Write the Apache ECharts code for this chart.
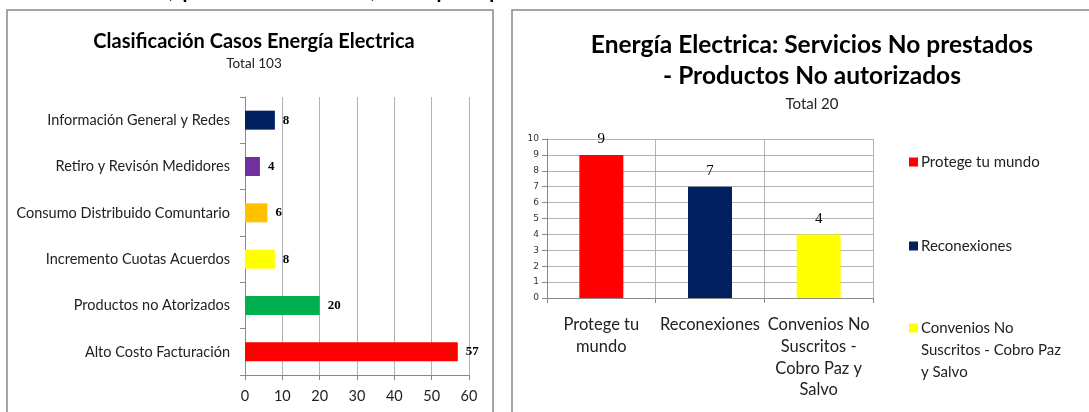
<!DOCTYPE html>
<html><head><meta charset="utf-8">
<script src="https://cdn.jsdelivr.net/npm/echarts@6/dist/echarts.min.js"></script>
<style>html,body{margin:0;padding:0;background:#fff;overflow:hidden}#c{width:1089px;height:412px}</style>
</head><body><div id="c"></div>
<script>
// Left chart data
const leftTitle = 'Clasificación Casos Energía Electrica';
const leftSubtitle = 'Total 103';
const leftCategories = ['Información General y Redes','Retiro y Revisón Medidores','Consumo Distribuido Comuntario','Incremento Cuotas Acuerdos','Productos no Atorizados','Alto Costo Facturación'];
const leftValues = [8, 4, 6, 8, 20, 57];
const leftColors = ['#002060','#7030A0','#FFC000','#FFFF00','#00B050','#FF0000'];
const leftTicks = [0, 10, 20, 30, 40, 50, 60];

// Right chart data
const rightTitle = 'Energía Electrica: Servicios No prestados\n- Productos No autorizados';
const rightSubtitle = 'Total 20';
const rightCategories = ['Protege tu mundo','Reconexiones','Convenios No Suscritos - Cobro Paz y Salvo'];
const rightAxisLabels = ['Protege tu\nmundo','Reconexiones','Convenios No\nSuscritos -\nCobro Paz y\nSalvo'];
const rightLegendLabels = ['Protege tu mundo','Reconexiones','Convenios No\nSuscritos - Cobro Paz\ny Salvo'];
const rightValues = [9, 7, 4];
const rightColors = ['#FF0000','#002060','#FFFF00'];
const rightTicks = [0,1,2,3,4,5,6,7,8,9,10];

const topText = 'conformación, por cada sector, una perspectiva de los casos';

const SANS = 'Lato';
const SERIF = 'Liberation Serif';
const GRID = '#b3b3b3';

const chart = echarts.init(document.getElementById('c'));

const rightSeries = rightCategories.map((name, i) => ({
  type: 'bar', name: name, stack: 'r', xAxisIndex: 1, yAxisIndex: 1,
  barWidth: 44,
  itemStyle: { color: rightColors[i] },
  label: { show: true, position: 'top', distance: 8, fontFamily: SERIF, fontSize: 15, color: '#000' },
  data: rightCategories.map((c, j) => j === i ? rightValues[i] : '-')
}));

const legendTops = [146, 230, 312];
const squareIcon = 'path://M0,0H9V9H0Z';
const tallIcon = 'path://M0,0H9V9H0Z M0,53H0.05V53.05H0Z';
const legends = rightCategories.map((name, i) => {
  const multi = rightLegendLabels[i].indexOf('\n') >= 0;
  return {
    data: [{ name: name, icon: multi ? tallIcon : squareIcon }], left: 904, top: legendTops[i], orient: 'vertical',
    itemWidth: 9, itemHeight: multi ? 53.05 : 9, itemGap: 0,
    selectedMode: false,
    formatter: () => rightLegendLabels[i],
    textStyle: { fontFamily: SANS, fontSize: 15, color: '#222', lineHeight: 22, padding: [0,0,0,-2] }
  };
});

chart.setOption({
  animation: false,
  title: [
    { text: leftTitle, subtext: leftSubtitle, left: 249, top: 27, textAlign: 'center', itemGap: 5,
      textStyle: { fontFamily: SANS, fontWeight: 'bold', fontSize: 20, color: '#000' },
      subtextStyle: { fontFamily: SANS, fontSize: 13.5, color: '#222' } },
    { text: rightTitle, subtext: rightSubtitle, left: 807, top: 25, textAlign: 'center', itemGap: 5,
      textStyle: { fontFamily: SANS, fontWeight: 'bold', fontSize: 24.5, lineHeight: 31, color: '#000' },
      subtextStyle: { fontFamily: SANS, fontSize: 15, color: '#222' } }
  ],
  legend: legends,
  graphic: [
    { type: 'rect', shape: { x: 7, y: 10, width: 486, height: 420 }, style: { fill: 'none', stroke: '#888', lineWidth: 1.5 }, silent: true },
    { type: 'rect', shape: { x: 512, y: 10, width: 600, height: 420 }, style: { fill: 'none', stroke: '#888', lineWidth: 1.5 }, silent: true },
    { type: 'text', left: 0, top: -26, style: { text: topText, font: '28px Lato', fill: '#000' }, silent: true }
  ],
  grid: [
    { left: 245, right: 1089 - 469, top: 97, bottom: 412 - 375 },
    { left: 547, right: 1089 - 873, top: 139, bottom: 412 - 298 }
  ],
  xAxis: [
    { type: 'value', gridIndex: 0, min: leftTicks[0], max: leftTicks[leftTicks.length-1], interval: leftTicks[1]-leftTicks[0],
      axisLine: { show: true, lineStyle: { color: '#888' } },
      axisTick: { show: true, length: 5, lineStyle: { color: '#888' } },
      splitLine: { show: true, lineStyle: { color: GRID } },
      axisLabel: { fontFamily: SANS, fontSize: 14.5, color: '#222', margin: 14 } },
    { type: 'category', gridIndex: 1, data: rightCategories,
      axisLine: { show: true, lineStyle: { color: '#888' } },
      axisTick: { show: true, length: 5, lineStyle: { color: '#888' } },
      splitLine: { show: true, lineStyle: { color: GRID } },
      axisLabel: { interval: 0, fontFamily: SANS, fontSize: 16.5, lineHeight: 21.7, color: '#222', margin: 16,
        formatter: (v, i) => rightAxisLabels[i] } }
  ],
  yAxis: [
    { type: 'category', gridIndex: 0, data: leftCategories, inverse: true,
      axisLine: { show: true, lineStyle: { color: '#888' } },
      axisTick: { show: true, length: 5, lineStyle: { color: '#888' } },
      axisLabel: { fontFamily: SANS, fontSize: 14.5, color: '#222', margin: 15 } },
    { type: 'value', gridIndex: 1, min: rightTicks[0], max: rightTicks[rightTicks.length-1], interval: 1,
      axisLine: { show: true, lineStyle: { color: '#888' } },
      axisTick: { show: true, length: 5, lineStyle: { color: '#888' } },
      splitLine: { show: true, lineStyle: { color: GRID } },
      axisLabel: { fontFamily: 'DejaVu Sans', fontSize: 9, color: '#333', margin: 8 } }
  ],
  series: [
    { type: 'bar', xAxisIndex: 0, yAxisIndex: 0, barWidth: 19,
      label: { show: true, position: 'right', distance: 8, fontFamily: SERIF, fontWeight: 'bold', fontSize: 13, color: '#000' },
      data: leftValues.map((v, i) => ({ value: v, itemStyle: { color: leftColors[i] } })) },
    ...rightSeries
  ]
});
</script></body></html>
